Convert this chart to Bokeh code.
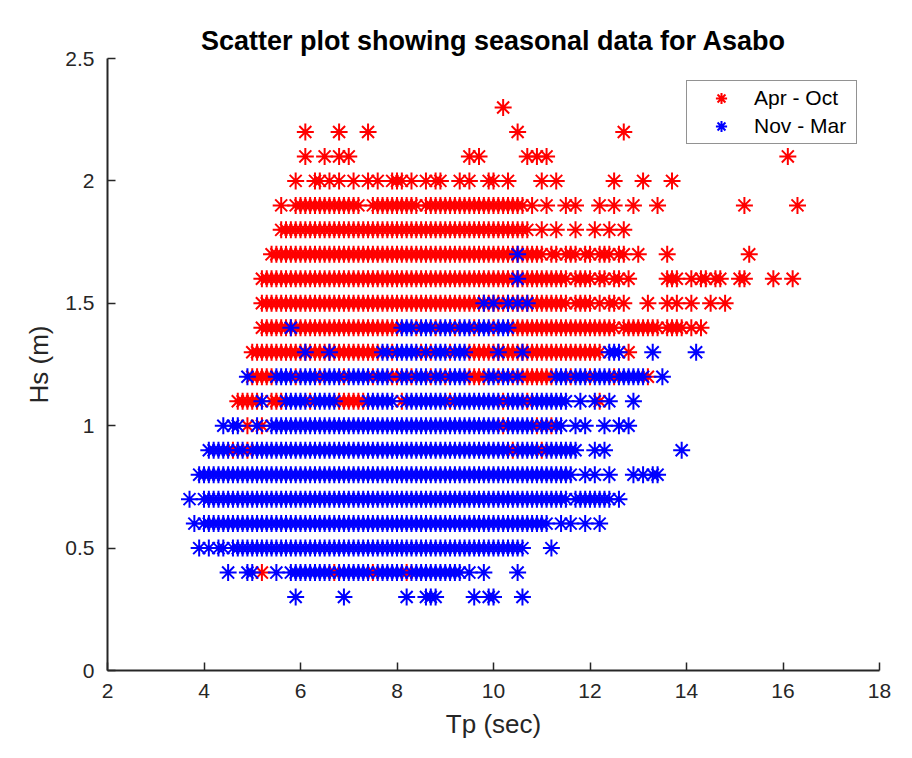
from bokeh.plotting import figure
from bokeh.models import FixedTicker, Legend, LegendItem, ColumnDataSource
from bokeh.embed import file_html
from bokeh.resources import INLINE

TITLE = "Scatter plot showing seasonal data for Asabo"
X_LABEL = "Tp (sec)"
Y_LABEL = "Hs (m)"
X_TICKS = [2, 4, 6, 8, 10, 12, 14, 16, 18]
Y_TICKS = [0, 0.5, 1, 1.5, 2, 2.5]
Y_TICK_LABELS = ["0", "0.5", "1", "1.5", "2", "2.5"]
SERIES_NAMES = ["Apr - Oct", "Nov - Mar"]

# ---------------- Apr - Oct (red): Tp values per Hs level ----------------
APR_230 = [10.2]
APR_220 = [6.1, 6.8, 7.4, 10.5, 12.7]
APR_210 = [6.1, 6.5, 6.8, 7.0, 9.5, 9.7, 10.7, 10.9, 11.1, 16.1]
APR_200 = [5.9, 6.3, 6.4, 6.6, 6.8, 7.1, 7.4, 7.6, 7.9, 8.0, 8.1, 8.3, 8.6, 8.8, 8.9,
           9.3, 9.5, 9.9, 10.0, 10.3, 11.0, 11.3, 12.5, 13.1, 13.7]
APR_190 = [5.6, 5.9, 6.0, 6.1, 6.2, 6.3, 6.4, 6.5, 6.6, 6.7, 6.8, 6.9, 7.0, 7.1, 7.2,
           7.5, 7.6, 7.7, 7.8, 7.9, 8.0, 8.1, 8.2, 8.3, 8.4, 8.6, 8.7, 8.8, 8.9, 9.0,
           9.1, 9.2, 9.3, 9.4, 9.5, 9.6, 9.7, 9.8, 9.9, 10.0, 10.1, 10.2, 10.3, 10.4,
           10.5, 10.6, 10.8, 11.1, 11.5, 11.7, 12.2, 12.5, 12.9, 13.4, 15.2, 16.3]
APR_180 = [5.6, 5.7, 5.8, 5.9, 6.0, 6.1, 6.2, 6.3, 6.4, 6.5, 6.6, 6.7, 6.8, 6.9, 7.0,
           7.1, 7.2, 7.3, 7.4, 7.5, 7.6, 7.7, 7.8, 7.9, 8.0, 8.1, 8.2, 8.3, 8.4, 8.5,
           8.6, 8.7, 8.8, 8.9, 9.0, 9.1, 9.2, 9.3, 9.4, 9.5, 9.6, 9.7, 9.8, 9.9, 10.0,
           10.1, 10.2, 10.3, 10.4, 10.5, 10.6, 10.7, 11.0, 11.3, 11.7, 12.1, 12.4, 12.7]
APR_170 = [5.4, 5.5, 5.6, 5.7, 5.8, 5.9, 6.0, 6.1, 6.2, 6.3, 6.4, 6.5, 6.6, 6.7, 6.8,
           6.9, 7.0, 7.1, 7.2, 7.3, 7.4, 7.5, 7.6, 7.7, 7.8, 7.9, 8.0, 8.1, 8.2, 8.3,
           8.4, 8.5, 8.6, 8.7, 8.8, 8.9, 9.0, 9.1, 9.2, 9.3, 9.4, 9.5, 9.6, 9.7, 9.8,
           9.9, 10.0, 10.1, 10.2, 10.3, 10.4, 10.5, 10.6, 10.7, 10.8, 10.9, 11.0, 11.2,
           11.3, 11.5, 11.6, 11.7, 11.9, 12.0, 12.2, 12.3, 12.4, 12.6, 12.7, 13.0, 13.6, 15.3]
APR_160 = [5.2, 5.3, 5.4, 5.5, 5.6, 5.7, 5.8, 5.9, 6.0, 6.1, 6.2, 6.3, 6.4, 6.5, 6.6,
           6.7, 6.8, 6.9, 7.0, 7.1, 7.2, 7.3, 7.4, 7.5, 7.6, 7.7, 7.8, 7.9, 8.0, 8.1,
           8.2, 8.3, 8.4, 8.5, 8.6, 8.7, 8.8, 8.9, 9.0, 9.1, 9.2, 9.3, 9.4, 9.5, 9.6,
           9.7, 9.8, 9.9, 10.0, 10.1, 10.2, 10.3, 10.4, 10.5, 10.6, 10.7, 10.8, 10.9,
           11.0, 11.1, 11.2, 11.3, 11.4, 11.5, 11.7, 11.8, 11.9, 12.0, 12.2, 12.3, 12.5,
           12.6, 12.8, 13.6, 13.7, 13.8, 14.1, 14.3, 14.4, 14.6, 14.7, 15.1, 15.2, 15.8, 16.2]
APR_150 = [5.2, 5.3, 5.4, 5.5, 5.6, 5.7, 5.8, 5.9, 6.0, 6.1, 6.2, 6.3, 6.4, 6.5, 6.6,
           6.7, 6.8, 6.9, 7.0, 7.1, 7.2, 7.3, 7.4, 7.5, 7.6, 7.7, 7.8, 7.9, 8.0, 8.1,
           8.2, 8.3, 8.4, 8.5, 8.6, 8.7, 8.8, 8.9, 9.0, 9.1, 9.2, 9.3, 9.4, 9.5, 9.6,
           9.7, 9.8, 9.9, 10.0, 10.1, 10.2, 10.3, 10.4, 10.5, 10.6, 10.7, 10.8, 10.9,
           11.0, 11.1, 11.2, 11.3, 11.4, 11.5, 11.7, 11.8, 11.9, 12.0, 12.2, 12.4, 12.5,
           12.7, 13.2, 13.6, 13.8, 14.1, 14.5, 14.8]
APR_140 = [5.2, 5.3, 5.4, 5.5, 5.6, 5.7, 5.8, 5.9, 6.0, 6.1, 6.2, 6.3, 6.4, 6.5, 6.6,
           6.7, 6.8, 6.9, 7.0, 7.1, 7.2, 7.3, 7.4, 7.5, 7.6, 7.7, 7.8, 7.9, 8.0, 8.4,
           8.8, 9.2, 9.6, 10.0, 10.4, 10.5, 10.6, 10.7, 10.8, 10.9, 11.0, 11.1, 11.2,
           11.3, 11.4, 11.5, 11.6, 11.7, 11.8, 11.9, 12.0, 12.1, 12.2, 12.3, 12.4, 12.5,
           12.7, 12.8, 12.9, 13.0, 13.1, 13.2, 13.3, 13.4, 13.6, 13.7, 13.8, 13.9, 14.1, 14.3]
APR_130 = [5.0, 5.1, 5.2, 5.3, 5.4, 5.5, 5.6, 5.7, 5.8, 5.9, 6.0, 6.1, 6.2, 6.3, 6.4,
           6.5, 6.6, 6.7, 6.8, 6.9, 7.0, 7.1, 7.2, 7.3, 7.4, 7.5, 7.6, 7.9, 8.5, 8.7,
           9.1, 9.5, 9.6, 9.7, 9.8, 9.9, 10.0, 10.1, 10.2, 10.3, 10.4, 10.5, 10.6, 10.7,
           10.8, 10.9, 11.0, 11.1, 11.2, 11.3, 11.4, 11.5, 11.6, 11.7, 11.8, 11.9, 12.0,
           12.1, 12.2, 12.8]
APR_120 = [5.0, 5.1, 5.2, 5.3, 5.4, 5.9, 6.4, 6.9, 7.5, 7.9, 8.0, 8.3, 8.7, 9.0, 9.5,
           9.6, 9.7, 9.8, 10.1, 10.4, 10.6, 10.7, 10.8, 10.9, 11.0, 11.1, 11.2, 11.6,
           12.0, 12.5, 13.2]
APR_110 = [4.7, 4.8, 4.9, 5.0, 5.1, 5.4, 5.5, 5.6, 6.2, 6.8, 6.9, 7.0, 7.1, 7.2, 7.3,
           8.1, 9.1, 10.2, 10.7, 12.2]
APR_100 = [4.9, 5.2, 10.2, 10.9, 11.2]
APR_090 = [4.6, 4.9, 10.4, 11.0]
APR_040 = [5.2, 6.7, 7.5, 8.2]

# ---------------- Nov - Mar (blue): Tp values per Hs level ----------------
NOV_170 = [10.5]
NOV_160 = [10.5]
NOV_150 = [9.8, 10.0, 10.3, 10.5, 10.7]
NOV_140 = [5.8, 8.1, 8.2, 8.3, 8.5, 8.6, 8.7, 8.9, 9.0, 9.1, 9.3, 9.4, 9.5, 9.7, 9.8,
           9.9, 10.1, 10.2, 10.3]
NOV_130 = [6.1, 6.6, 7.7, 7.8, 8.0, 8.1, 8.2, 8.3, 8.4, 8.6, 8.8, 8.9, 9.0, 9.2, 9.3,
           9.4, 10.1, 10.6, 12.4, 12.5, 12.6, 13.3, 14.2]
NOV_120 = [4.9, 5.5, 5.6, 5.7, 5.8, 6.0, 6.1, 6.2, 6.3, 6.5, 6.6, 6.7, 6.8, 7.0, 7.1,
           7.2, 7.3, 7.4, 7.6, 7.7, 7.8, 8.1, 8.2, 8.4, 8.5, 8.6, 8.8, 8.9, 9.1, 9.2,
           9.3, 9.4, 9.9, 10.0, 10.2, 10.3, 10.5, 11.3, 11.4, 11.5, 11.7, 11.8, 11.9,
           12.1, 12.2, 12.3, 12.4, 12.6, 12.7, 12.8, 12.9, 13.0, 13.1, 13.5]
NOV_110 = [5.2, 5.7, 5.8, 5.9, 6.0, 6.1, 6.3, 6.4, 6.5, 6.6, 6.7, 7.4, 7.5, 7.6, 7.7,
           7.8, 7.9, 8.2, 8.3, 8.4, 8.5, 8.6, 8.7, 8.8, 8.9, 9.0, 9.2, 9.3, 9.4, 9.5,
           9.6, 9.7, 9.8, 9.9, 10.0, 10.1, 10.3, 10.4, 10.5, 10.6, 10.8, 10.9, 11.0,
           11.1, 11.2, 11.3, 11.4, 11.5, 11.8, 12.1, 12.4, 12.9]
NOV_100 = [4.4, 4.6, 4.7, 5.1, 5.4, 5.5, 5.6, 5.7, 5.8, 5.9, 6.0, 6.1, 6.2, 6.3, 6.4,
           6.5, 6.6, 6.7, 6.8, 6.9, 7.0, 7.1, 7.2, 7.3, 7.4, 7.5, 7.6, 7.7, 7.8, 7.9,
           8.0, 8.1, 8.2, 8.3, 8.4, 8.5, 8.6, 8.7, 8.8, 8.9, 9.0, 9.1, 9.2, 9.3, 9.4,
           9.5, 9.6, 9.7, 9.8, 9.9, 10.0, 10.1, 10.3, 10.4, 10.5, 10.6, 10.7, 10.8,
           11.0, 11.1, 11.3, 11.4, 11.7, 11.9, 12.3, 12.6, 12.8]
NOV_090 = [4.1, 4.2, 4.3, 4.4, 4.5, 4.7, 4.8, 5.0, 5.1, 5.2, 5.3, 5.4, 5.5, 5.6, 5.7,
           5.8, 5.9, 6.0, 6.1, 6.2, 6.3, 6.4, 6.5, 6.6, 6.7, 6.8, 6.9, 7.0, 7.1, 7.2,
           7.3, 7.4, 7.5, 7.6, 7.7, 7.8, 7.9, 8.0, 8.1, 8.2, 8.3, 8.4, 8.5, 8.6, 8.7,
           8.8, 8.9, 9.0, 9.1, 9.2, 9.3, 9.4, 9.5, 9.6, 9.7, 9.8, 9.9, 10.0, 10.1,
           10.2, 10.3, 10.5, 10.6, 10.7, 10.8, 10.9, 11.1, 11.2, 11.3, 11.4, 11.5, 11.6,
           11.7, 12.1, 12.3, 13.9]
NOV_080 = [3.9, 4.0, 4.1, 4.2, 4.3, 4.4, 4.5, 4.6, 4.7, 4.8, 4.9, 5.0, 5.1, 5.2, 5.3,
           5.4, 5.5, 5.6, 5.7, 5.8, 5.9, 6.0, 6.1, 6.2, 6.3, 6.4, 6.5, 6.6, 6.7, 6.8,
           6.9, 7.0, 7.1, 7.2, 7.3, 7.4, 7.5, 7.6, 7.7, 7.8, 7.9, 8.0, 8.1, 8.2, 8.3,
           8.4, 8.5, 8.6, 8.7, 8.8, 8.9, 9.0, 9.1, 9.2, 9.3, 9.4, 9.5, 9.6, 9.7, 9.8,
           9.9, 10.0, 10.1, 10.2, 10.3, 10.4, 10.5, 10.6, 10.7, 10.8, 10.9, 11.0, 11.1,
           11.2, 11.3, 11.4, 11.5, 11.6, 11.9, 12.1, 12.4, 12.9, 13.1, 13.3, 13.4]
NOV_070 = [3.7, 4.0, 4.1, 4.2, 4.3, 4.4, 4.5, 4.6, 4.7, 4.8, 4.9, 5.0, 5.1, 5.2, 5.3,
           5.4, 5.5, 5.6, 5.7, 5.8, 5.9, 6.0, 6.1, 6.2, 6.3, 6.4, 6.5, 6.6, 6.7, 6.8,
           6.9, 7.0, 7.1, 7.2, 7.3, 7.4, 7.5, 7.6, 7.7, 7.8, 7.9, 8.0, 8.1, 8.2, 8.3,
           8.4, 8.5, 8.6, 8.7, 8.8, 8.9, 9.0, 9.1, 9.2, 9.3, 9.4, 9.5, 9.6, 9.7, 9.8,
           9.9, 10.0, 10.1, 10.2, 10.3, 10.4, 10.5, 10.6, 10.7, 10.8, 10.9, 11.0, 11.1,
           11.2, 11.3, 11.4, 11.5, 11.7, 11.8, 11.9, 12.0, 12.1, 12.2, 12.3, 12.4, 12.6]
NOV_060 = [3.8, 4.0, 4.1, 4.2, 4.3, 4.4, 4.5, 4.6, 4.7, 4.8, 4.9, 5.0, 5.1, 5.2, 5.3,
           5.4, 5.5, 5.6, 5.7, 5.8, 5.9, 6.0, 6.1, 6.2, 6.3, 6.4, 6.5, 6.6, 6.7, 6.8,
           6.9, 7.0, 7.1, 7.2, 7.3, 7.4, 7.5, 7.6, 7.7, 7.8, 7.9, 8.0, 8.1, 8.2, 8.3,
           8.4, 8.5, 8.6, 8.7, 8.8, 8.9, 9.0, 9.1, 9.2, 9.3, 9.4, 9.5, 9.6, 9.7, 9.8,
           9.9, 10.0, 10.1, 10.2, 10.3, 10.4, 10.5, 10.6, 10.7, 10.8, 10.9, 11.0, 11.1,
           11.4, 11.6, 11.9, 12.2]
NOV_050 = [3.9, 4.1, 4.3, 4.4, 4.6, 4.7, 4.8, 4.9, 5.0, 5.1, 5.2, 5.3, 5.4, 5.5, 5.6,
           5.7, 5.8, 5.9, 6.0, 6.1, 6.2, 6.3, 6.4, 6.5, 6.6, 6.7, 6.8, 6.9, 7.0, 7.1,
           7.2, 7.3, 7.4, 7.5, 7.6, 7.7, 7.8, 7.9, 8.0, 8.1, 8.2, 8.3, 8.4, 8.5, 8.6,
           8.7, 8.8, 8.9, 9.0, 9.1, 9.2, 9.3, 9.4, 9.5, 9.6, 9.7, 9.8, 9.9, 10.0, 10.1,
           10.2, 10.3, 10.4, 10.5, 10.6, 11.2]
NOV_040 = [4.5, 4.9, 5.0, 5.5, 5.8, 5.9, 6.0, 6.1, 6.2, 6.3, 6.4, 6.5, 6.6, 6.8, 6.9,
           7.0, 7.1, 7.2, 7.3, 7.4, 7.6, 7.7, 7.8, 7.9, 8.0, 8.1, 8.3, 8.4, 8.5, 8.6,
           8.7, 8.8, 8.9, 9.0, 9.1, 9.2, 9.3, 9.5, 9.8, 10.5]
NOV_030 = [5.9, 6.9, 8.2, 8.6, 8.7, 8.8, 9.6, 9.9, 10.0, 10.6]

APR_ROWS = [(2.3, APR_230), (2.2, APR_220), (2.1, APR_210), (2.0, APR_200),
            (1.9, APR_190), (1.8, APR_180), (1.7, APR_170), (1.6, APR_160),
            (1.5, APR_150), (1.4, APR_140), (1.3, APR_130), (1.2, APR_120),
            (1.1, APR_110), (1.0, APR_100), (0.9, APR_090), (0.4, APR_040)]
NOV_ROWS = [(1.7, NOV_170), (1.6, NOV_160), (1.5, NOV_150), (1.4, NOV_140),
            (1.3, NOV_130), (1.2, NOV_120), (1.1, NOV_110), (1.0, NOV_100),
            (0.9, NOV_090), (0.8, NOV_080), (0.7, NOV_070), (0.6, NOV_060),
            (0.5, NOV_050), (0.4, NOV_040), (0.3, NOV_030)]


def flatten(rows):
    tp, hs = [], []
    for level, values in rows:
        for v in values:
            tp.append(v)
            hs.append(level)
    return dict(tp=tp, hs=hs)


FONT = "Liberation Sans"
TXT = "#262626"

p = figure(width=912, height=758, x_range=(2, 18), y_range=(0, 2.5),
           output_backend="svg", toolbar_location=None,
           min_border_left=107, min_border_right=33, min_border_top=58,
           min_border_bottom=88, background_fill_color="white",
           border_fill_color="white")
p.outline_line_color = None
p.grid.visible = False

p.title.text = TITLE
p.title.align = "center"
p.title.text_font = FONT
p.title.text_font_size = "27px"
p.title.text_font_style = "bold"
p.title.text_color = "black"
p.title.standoff = 6

for ax in (p.xaxis[0], p.yaxis[0]):
    ax.axis_line_color = TXT
    ax.axis_line_width = 2
    ax.major_tick_line_color = TXT
    ax.major_tick_line_width = 1.5
    ax.major_tick_in = 8
    ax.major_tick_out = 0
    ax.minor_tick_line_color = None
    ax.major_label_text_font = FONT
    ax.major_label_text_font_size = "21px"
    ax.major_label_text_color = TXT
    ax.major_label_standoff = 13
    ax.axis_label_text_font = FONT
    ax.axis_label_text_font_size = "26px"
    ax.axis_label_text_font_style = "normal"
    ax.axis_label_text_color = TXT
    ax.axis_label_standoff = 8

p.xaxis.ticker = FixedTicker(ticks=X_TICKS)
p.yaxis.ticker = FixedTicker(ticks=Y_TICKS)
p.yaxis.major_label_overrides = {t: l for t, l in zip(Y_TICKS, Y_TICK_LABELS)}
p.xaxis.axis_label = X_LABEL
p.yaxis.axis_label = Y_LABEL

src_apr = ColumnDataSource(flatten(APR_ROWS))
src_nov = ColumnDataSource(flatten(NOV_ROWS))

r_apr = p.scatter("tp", "hs", source=src_apr, marker="asterisk", size=17,
                  line_color="#ff0000", line_width=2)
r_nov = p.scatter("tp", "hs", source=src_nov, marker="asterisk", size=17,
                  line_color="#0000ff", line_width=2)

legend = Legend(items=[LegendItem(label=SERIES_NAMES[0], renderers=[r_apr]),
                       LegendItem(label=SERIES_NAMES[1], renderers=[r_nov])],
                location="top_right", margin=22, padding=3, spacing=0,
                glyph_height=28, glyph_width=62, label_standoff=2, label_width=99,
                label_height=28,
                label_text_font=FONT, label_text_font_size="21px",
                label_text_color="black", border_line_color="#262626",
                border_line_width=1, background_fill_color="white",
                background_fill_alpha=1.0)
p.add_layout(legend, "center")

open("out.html", "w").write(file_html(p, INLINE))
